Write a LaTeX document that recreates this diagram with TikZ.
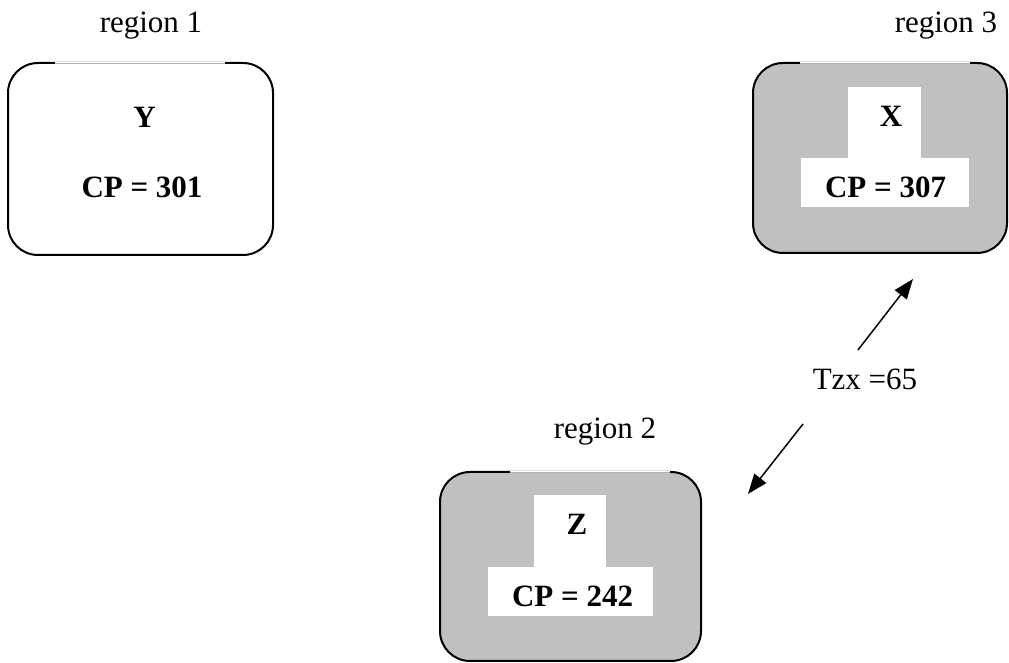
\documentclass[tikz,border=0pt]{standalone}
\usepackage{fontspec}
\setmainfont{Liberation Serif}
\usetikzlibrary{arrows.meta}

\begin{document}
\begin{tikzpicture}[x=0.5pt,y=-0.5pt,
  regbox/.style={draw=black,line width=1pt,rounded corners=15pt},
  whitebox/.style={fill=white,inner sep=0pt},
  lbl/.style={anchor=base,inner sep=0pt,font=\fontsize{15.5}{18}\selectfont},
  cplbl/.style={anchor=base,inner sep=0pt,font=\fontsize{15.5}{18}\selectfont\bfseries},
  arr/.style={line width=0.75pt,-{Triangle[length=10pt,width=7.5pt]}}]
\useasboundingbox (0,0) rectangle (1009,663);
%Регионы
\node[regbox,minimum width=132.5pt,minimum height=96pt] (box1) at (140.5,159) {};
\node[regbox,fill={rgb,255:red,192;green,192;blue,192},minimum width=127pt,minimum height=95pt] (box3) at (880,158) {};
\node[regbox,fill={rgb,255:red,192;green,192;blue,192},minimum width=130.5pt,minimum height=94.5pt] (box2) at (570.5,566.5) {};
%верхние кромки
\draw[white,line width=1.3pt] (55,63)--(225,63) (800,63)--(970,63) (510,472)--(670,472);
\draw[gray!60,line width=0.4pt] (55,63)--(225,63) (800,63)--(970,63) (510,472)--(670,472);
%белые подложки
\node[whitebox,minimum width=36.5pt,minimum height=35.5pt] (xtop) at (884.5,122.5) {};
\node[whitebox,minimum width=84pt,minimum height=24.5pt] (xbot) at (885,182.5) {};
\node[whitebox,minimum width=36pt,minimum height=36pt] (ztop) at (570,531) {};
\node[whitebox,minimum width=82.5pt,minimum height=24.5pt] (zbot) at (570.5,591.5) {};
%подписи
\node[lbl] (reg1) at (151,33) {region 1};
\node[lbl] (reg3) at (946,33) {region 3};
\node[lbl] (reg2) at (605,439) {region 2};
\node[cplbl] (y) at (144.5,128) {Y};
\node[cplbl] (cpy) at (142,198) {CP = 301};
\node[cplbl] (x) at (891,127) {X};
\node[cplbl] (cpx) at (885.5,198) {CP = 307};
\node[cplbl] (z) at (577,535) {Z};
\node[cplbl] (cpz) at (572.5,607) {CP = 242};
\node[lbl] (tzx) at (865,390) {Tzx =65};
%стрелки
\coordinate (a1) at (858,350);
\coordinate (a2) at (913,279);
\coordinate (b1) at (803,424);
\coordinate (b2) at (748,494);
\draw[arr] (a1)--(a2);
\draw[arr] (b1)--(b2);
\end{tikzpicture}
\end{document}
